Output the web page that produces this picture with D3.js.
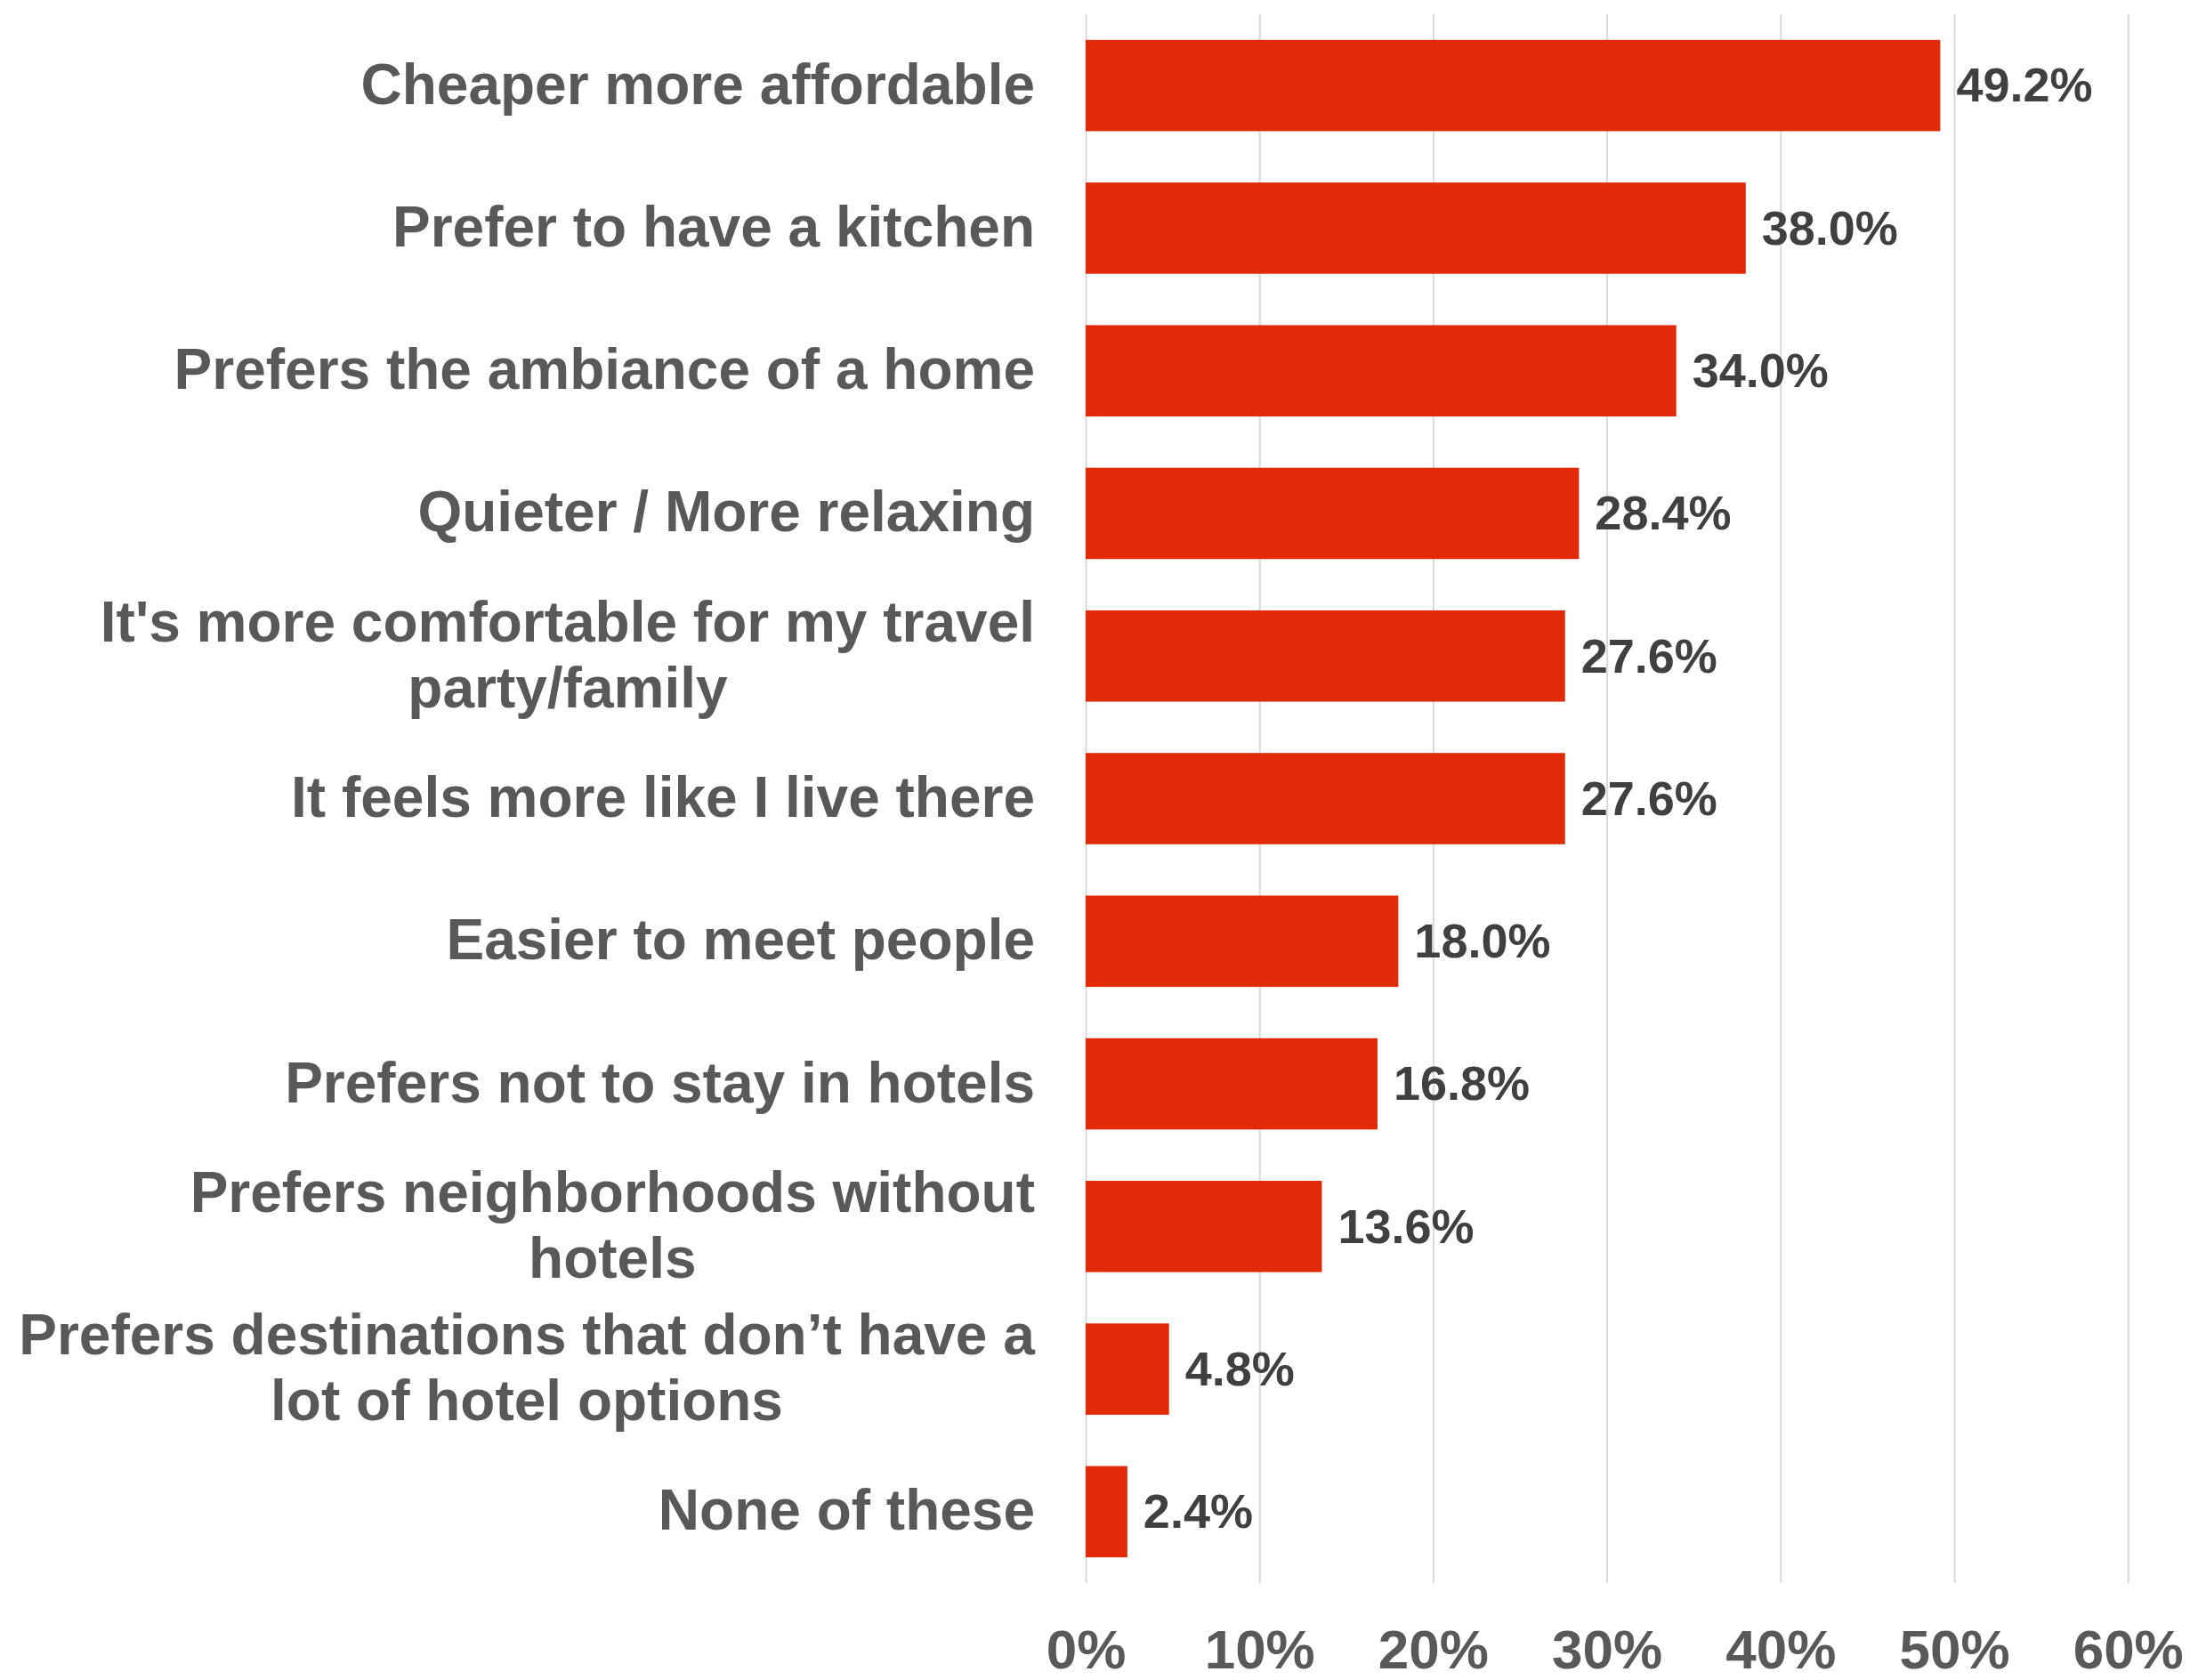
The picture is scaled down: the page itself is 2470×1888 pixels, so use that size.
<!DOCTYPE html>
<html>
<head>
<meta charset="utf-8">
<script src="https://cdn.jsdelivr.net/npm/d3@7/dist/d3.min.js"></script>
<style>
  html, body { margin: 0; padding: 0; background: #ffffff; }
  svg { display: block; }
  text { font-family: "Liberation Sans", Arial, sans-serif; font-weight: bold; }
</style>
</head>
<body>
<svg id="chart" width="2470" height="1888"></svg>
<script>
// Reasons for choosing a home rental, share of respondents
const categories = [
  "Cheaper more affordable",
  "Prefer to have a kitchen",
  "Prefers the ambiance of a home",
  "Quieter / More relaxing",
  "It's more comfortable for my travel\nparty/family",
  "It feels more like I live there",
  "Easier to meet people",
  "Prefers not to stay in hotels",
  "Prefers neighborhoods without\nhotels",
  "Prefers destinations that don\u2019t have a\nlot of hotel options",
  "None of these"
];
const values = [49.2, 38.0, 34.0, 28.4, 27.6, 27.6, 18.0, 16.8, 13.6, 4.8, 2.4];
const tickValues = [0, 10, 20, 30, 40, 50, 60];

const svg = d3.select("#chart");

const x = d3.scaleLinear().domain([0, 60]).range([1220, 2391.2]);
const y = d3.scaleBand()
  .domain(categories)
  .range([16, 1779])
  .paddingInner(0.36)
  .paddingOuter(0.18);

const fmt = v => v.toFixed(1) + "%";

// Vertical gridlines
const grid = svg.append("g")
  .attr("transform", `translate(0,${y.range()[1]})`)
  .call(d3.axisBottom(x).tickValues(tickValues).tickSize(-(y.range()[1] - y.range()[0])).tickFormat(""));
grid.select(".domain").remove();
grid.selectAll(".tick line").attr("stroke", "#d9d9d9").attr("stroke-width", 2);

// Bars
svg.append("g").selectAll("rect")
  .data(values)
  .join("rect")
  .attr("x", x(0))
  .attr("y", (d, i) => y(categories[i]))
  .attr("width", d => x(d) - x(0))
  .attr("height", y.bandwidth())
  .attr("fill", "#e02a08");

// Value labels
svg.append("g").selectAll("text")
  .data(values)
  .join("text")
  .attr("x", d => x(d) + 18)
  .attr("y", (d, i) => y(categories[i]) + y.bandwidth() / 2)
  .attr("dy", "0.34em")
  .attr("font-size", 54)
  .attr("fill", "#404040")
  .text(fmt);

// Category labels: lines centred within a block whose right edge sits at the label column
const labelRight = 1163;
const lineHeight = 74;
const labelG = svg.append("g");
categories.forEach(cat => {
  const lines = cat.split("\n");
  const cy = y(cat) + y.bandwidth() / 2;
  const t = labelG.append("text")
    .attr("font-size", 64)
    .attr("fill", "#595959")
    .attr("text-anchor", "middle");
  lines.forEach((ln, k) => {
    t.append("tspan")
      .attr("x", 0)
      .attr("y", cy + (k - (lines.length - 1) / 2) * lineHeight)
      .attr("dy", "0.32em")
      .text(ln);
  });
  const w = t.node().getBBox().width;
  t.attr("transform", `translate(${labelRight - w / 2},0)`);
});

// Percentage tick labels along the bottom
const axis = svg.append("g")
  .attr("transform", `translate(0,${y.range()[1]})`)
  .call(d3.axisBottom(x).tickValues(tickValues).tickSize(0).tickPadding(0).tickFormat(d => d + "%"));
axis.select(".domain").remove();
axis.selectAll(".tick text")
  .attr("y", 96)
  .attr("dy", 0)
  .attr("font-size", 62)
  .attr("font-family", "\"Liberation Sans\", Arial, sans-serif")
  .attr("font-weight", "bold")
  .attr("fill", "#595959");
</script>
</body>
</html>
